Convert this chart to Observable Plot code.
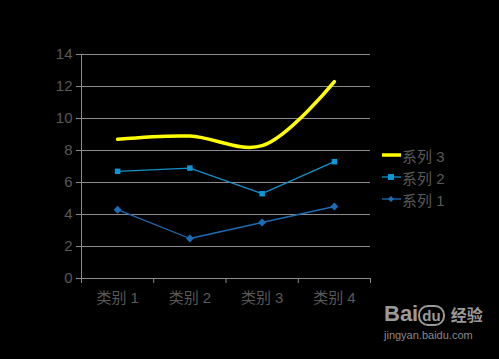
<!DOCTYPE html>
<html>
<head>
<meta charset="utf-8">
<script src="https://cdn.jsdelivr.net/npm/d3@7"></script>
<script src="https://cdn.jsdelivr.net/npm/@observablehq/plot@0.6"></script>
<style>
  html, body { margin: 0; padding: 0; background: #000; }
  #wrap { position: relative; width: 499px; height: 359px; overflow: hidden; background: #000;
          font-family: "Liberation Sans", "Noto Sans CJK SC", sans-serif; }
  #legend { position: absolute; left: 382px; top: 144px; color: #595959; font-size: 15px; }
  .li { display: flex; align-items: center; height: 22px; }
  .li svg { margin-right: 1px; }
  #wm { position: absolute; left: 384px; top: 302px; color: #9a9a9a; }
  #wm .b { font-family: "Liberation Sans", sans-serif; font-weight: bold; font-size: 22px; line-height: 24px; }
  #wm .s { font-family: "Liberation Sans", sans-serif; font-size: 11px; line-height: 14px; color: #8a8a8a; }
</style>
</head>
<body>
<div id="wrap">
  <div id="chart"></div>
  <div id="legend"></div>
  <div id="wm"><div class="b">Bai<span style="font-size:15px;border:2px solid #9a9a9a;border-radius:10px;padding:0 2px;">du</span> <span style="font-family:'Noto Sans CJK SC';font-size:16px;">经验</span></div><div class="s">jingyan.baidu.com</div></div>
</div>
<script>
const categories = ["类别 1", "类别 2", "类别 3", "类别 4"];
const series1 = [4.3, 2.5, 3.5, 4.5];
const series2 = [6.7, 6.9, 5.3, 7.3];
const series3 = [8.7, 8.9, 8.3, 12.3];
const yTicks = [0, 2, 4, 6, 8, 10, 12, 14];
const seriesNames = ["系列 3", "系列 2", "系列 1"];

const rows = (vals) => vals.map((v, i) => ({i: i + 0.5, v}));
const s1 = rows(series1), s2 = rows(series2), s3 = rows(series3);
const catRows = categories.map((c, i) => ({i: i + 0.5, c}));

const gridCol = "#8c8c8c";
const textCol = "#595959";

const chart = Plot.plot({
  width: 499,
  height: 359,
  marginLeft: 81,
  marginRight: 129,
  marginTop: 54,
  marginBottom: 81,
  style: {background: "#000", color: textCol, fontSize: "15px", fontFamily: "'Liberation Sans', 'Noto Sans CJK SC', sans-serif"},
  x: {type: "linear", domain: [0, categories.length], axis: null, label: null},
  y: {domain: [0, 14], axis: null, label: null},
  marks: [
    Plot.ruleY(yTicks.filter(d => d > 0), {stroke: gridCol, strokeWidth: 1, strokeOpacity: 1}),
    Plot.ruleX([0], {stroke: gridCol, strokeWidth: 1}),
    Plot.ruleY([0], {stroke: gridCol, strokeWidth: 1}),
    Plot.axisY({ticks: yTicks, label: null, tickSize: 5, tickPadding: 4, stroke: gridCol, strokeOpacity: 1, fill: textCol, fontSize: 15, tickFormat: d => d}),
    Plot.axisX({ticks: d3.range(categories.length + 1), label: null, tickSize: 5, stroke: gridCol, strokeOpacity: 1, tickFormat: () => ""}),
    Plot.text(catRows, {x: "i", y: 0, text: "c", dy: 20, fill: textCol, fontSize: 15}),
    Plot.line(s1, {x: "i", y: "v", stroke: "#1c6db5", strokeWidth: 1.3}),
    Plot.dot(s1, {x: "i", y: "v", symbol: "diamond2", r: 2.6, fill: "#1c6db5", stroke: "#1c6db5"}),
    Plot.line(s2, {x: "i", y: "v", stroke: "#1590c8", strokeWidth: 1.3}),
    Plot.dot(s2, {x: "i", y: "v", symbol: "square2", r: 3.5, fill: "#0b96d6", stroke: "none"}),
    Plot.line(s3, {x: "i", y: "v", stroke: "#ffff00", strokeWidth: 3.5, curve: "catmull-rom"})
  ]
});
document.getElementById("chart").appendChild(chart);

const leg = document.getElementById("legend");
const legendStyles = [
  {stroke: "#ffff00", w: 3.5, marker: null},
  {stroke: "#1590c8", w: 1.3, marker: "square", fill: "#0b96d6"},
  {stroke: "#1c6db5", w: 1.3, marker: "diamond", fill: "#1c6db5"}
];
seriesNames.forEach((name, k) => {
  const st = legendStyles[k];
  let m = "";
  if (st.marker === "square") m = `<rect x="6" y="8" width="6" height="6" fill="${st.fill}"/>`;
  if (st.marker === "diamond") m = `<path d="M9 8 L12 11 L9 14 L6 11 Z" fill="${st.fill}"/>`;
  leg.insertAdjacentHTML("beforeend",
    `<div class="li"><svg width="19" height="22"><line x1="0" x2="19" y1="11" y2="11" stroke="${st.stroke}" stroke-width="${st.w}"/>${m}</svg><span>${name}</span></div>`);
});
</script>
</body>
</html>
